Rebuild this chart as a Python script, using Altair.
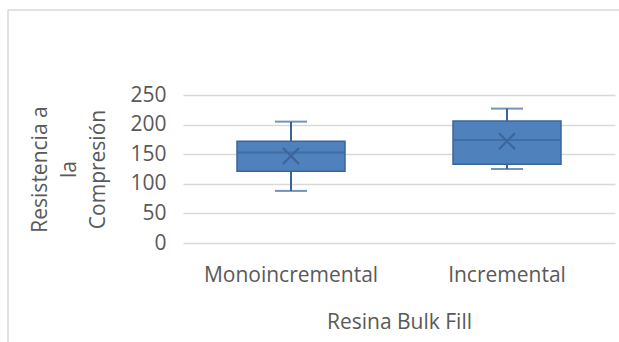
import altair as alt
import pandas as pd

categories = ["Monoincremental", "Incremental"]
minimum = [88, 125]
q1 = [121, 133]
median = [153, 174]
q3 = [172, 206]
maximum = [205, 227]
mean = [147, 172]
y_ticks = [0, 50, 100, 150, 200, 250]

df = pd.DataFrame({
    "cat": categories, "min": minimum, "q1": q1, "median": median,
    "q3": q3, "max": maximum, "mean": mean,
})

FONT = "Open Sans"
TXT = "#595959"
FILL = "#4F81BD"
DARK = "#3B659A"

x = alt.X("cat:N", sort=categories, title="Resina Bulk Fill",
          scale=alt.Scale(paddingInner=0, paddingOuter=0),
          axis=alt.Axis(labelAngle=0, domain=False, ticks=False, grid=False,
                        labelPadding=21, labelFontSize=21, labelColor=TXT, labelFont=FONT,
                        titleFontSize=21, titleColor=TXT, titleFont=FONT, titleFontWeight="normal",
                        titlePadding=26))
yscale = alt.Scale(domain=[0, 250], nice=False, zero=True)
yaxis = alt.Axis(values=y_ticks, domain=False, ticks=False,
                 labelOverlap=False, tickCount=6,
                 gridColor="#D9D9D9", gridWidth=1.5, labelPadding=17, labelFontSize=21,
                 labelColor=TXT, labelFont=FONT,
                 title=["Resistencia a", "la", "Compresión"], titleFontSize=21,
                 titleColor=TXT, titleFont=FONT, titleFontWeight="normal",
                 titleLineHeight=29, titleAngle=270, titleBaseline="middle",
                 titleX=-143, titleY=74, titleAlign="center")


def Y(field):
    return alt.Y(field, type="quantitative", scale=yscale, axis=yaxis)


base = alt.Chart(df)

whisk_lo = base.mark_rule(color=DARK, strokeWidth=2).encode(
    x=x, y=Y("min"), y2="q1:Q")
whisk_hi = base.mark_rule(color=DARK, strokeWidth=2).encode(
    x=x, y=Y("q3"), y2="max:Q")
box = base.mark_bar(size=108, color=FILL, stroke=DARK, strokeWidth=1.5).encode(
    x=x, y=Y("q1"), y2="q3:Q")
med = base.mark_tick(size=108, thickness=2, color=DARK).encode(x=x, y=Y("median"))
cap_lo = base.mark_tick(size=32, thickness=2, color=DARK).encode(x=x, y=Y("min"))
cap_hi = base.mark_tick(size=32, thickness=2, color=DARK).encode(x=x, y=Y("max"))
mn = base.mark_point(shape="M-1,-1L1,1M1,-1L-1,1", size=256, filled=False,
                     stroke=DARK, strokeWidth=2, opacity=1).encode(x=x, y=Y("mean"))

frame_top = alt.Chart(df).mark_rule(color="#D9D9D9", strokeWidth=1).encode(
    x=alt.value(-175), x2=alt.value(440), y=alt.value(-85))
frame_left = alt.Chart(df).mark_rule(color="#D9D9D9", strokeWidth=1).encode(
    x=alt.value(-175), y=alt.value(-85), y2=alt.value(260))

chart = alt.layer(frame_top, frame_left, whisk_lo, whisk_hi, box, med, cap_lo, cap_hi, mn).properties(
    width=432, height=148,
    autosize=alt.AutoSizeParams(type="none"),
    padding={"left": 183, "top": 95, "right": 4, "bottom": 99},
    background="white",
).configure_view(stroke=None).configure_axis(labelFont=FONT, titleFont=FONT)

chart.save("out.html", embed_options={"renderer": "svg", "actions": False})
